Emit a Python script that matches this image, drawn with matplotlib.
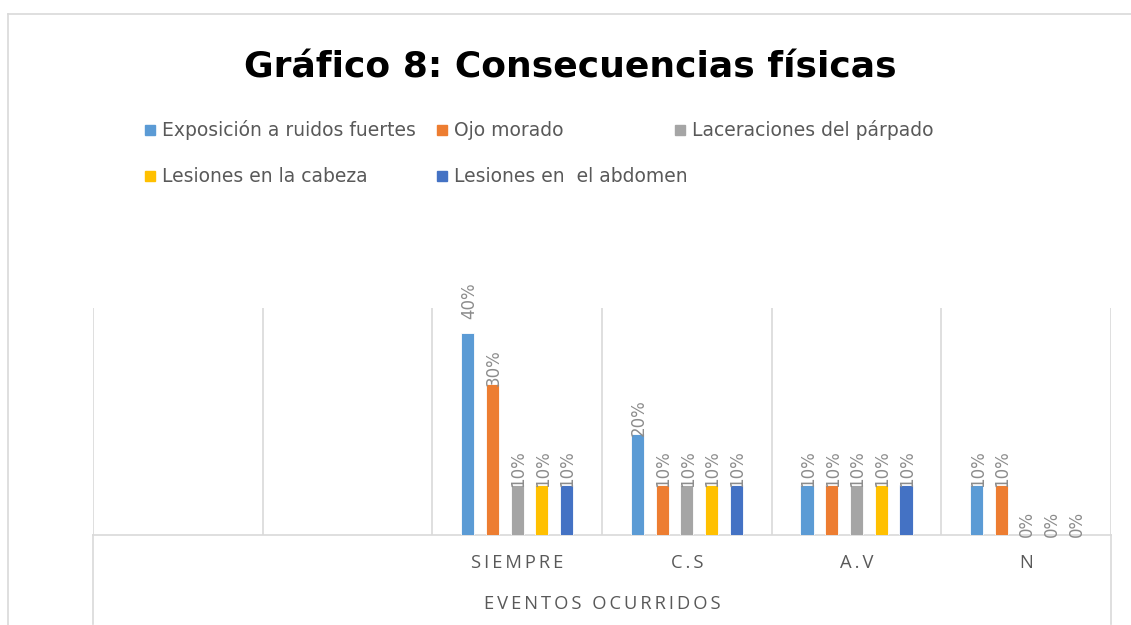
import numpy as np
import matplotlib
matplotlib.use("Agg")
import matplotlib.pyplot as plt
from matplotlib.patches import Rectangle
from matplotlib.lines import Line2D

# data (two leading empty category slots as in the original sheet)
categories = ["", "", "SIEMPRE", "C.S", "A.V", "N"]
series_names = ["Exposición a ruidos fuertes", "Ojo morado", "Laceraciones del párpado",
                "Lesiones en la cabeza", "Lesiones en  el abdomen"]
exposicion = [np.nan, np.nan, 0.40, 0.20, 0.10, 0.10]
ojo_morado = [np.nan, np.nan, 0.30, 0.10, 0.10, 0.10]
laceraciones = [np.nan, np.nan, 0.10, 0.10, 0.10, 0.00]
cabeza = [np.nan, np.nan, 0.10, 0.10, 0.10, 0.00]
abdomen = [np.nan, np.nan, 0.10, 0.10, 0.10, 0.00]
colors = ["#5B9BD5", "#ED7D31", "#A5A5A5", "#FFC000", "#4472C4"]

all_series = [exposicion, ojo_morado, laceraciones, cabeza, abdomen]


def spaced(s, sep="\u2009"):
    return sep.join(s)


fig = plt.figure(figsize=(11.31, 6.25), dpi=100)
W, H = 1131, 625
ax = fig.add_axes([93 / W, 1 - 535 / H, (1111 - 93) / W, (535 - 308) / H])

x = np.arange(len(categories))
step = 0.1456
width = 0.078
grid_c = "#D9D9D9"
for i, vals in enumerate(all_series):
    pos = x + (i - 2) * step
    ax.bar(pos, vals, width, color=colors[i], edgecolor="white", linewidth=0.6, zorder=3)
    for px, v in zip(pos, vals):
        if np.isnan(v):
            continue
        off = 14 if v >= 0.4 else -2
        ax.annotate(f"{v:.0%}", (px, v), xytext=(1, off), textcoords="offset pixels",
                    rotation=90, ha="center", va="bottom", fontsize=12, color="#8C8C8C", zorder=4)

ax.set_xlim(-0.5, len(categories) - 0.5)
ax.set_ylim(0, 0.45)
ax.set_yticks([])
ax.set_xticks(x)
ax.set_xticklabels([spaced(c) for c in categories], fontsize=13.2, color="#595959",
                   family="Open Sans")
ax.tick_params(axis="x", length=0, pad=14)
for b in np.arange(-0.5, len(categories), 1.0):
    ax.axvline(b, color=grid_c, linewidth=1.2, zorder=1)
for s in ["top", "left", "right"]:
    ax.spines[s].set_visible(False)
ax.spines["bottom"].set_color(grid_c)
ax.spines["bottom"].set_linewidth(1.2)
# outer edges of the multi-level category axis
for b in [-0.5, len(categories) - 0.5]:
    ax.plot([b, b], [0, -0.39], transform=ax.get_xaxis_transform(), color=grid_c,
            linewidth=1.2, clip_on=False)

ax.set_xlabel(spaced("EVENTOS OCURRIDOS"), fontsize=13.2, color="#595959",
              family="Open Sans", labelpad=16)

fig.suptitle("Gráfico 8: Consecuencias físicas", x=570 / W, y=1 - 68 / H, va="center",
             fontsize=26, fontweight="bold", color="black")

# legend laid out as in the reference (row-major grid)
leg_pos = [(145, 130), (437, 130), (675, 130), (145, 176), (437, 176)]
for (lx, ly), name, c in zip(leg_pos, series_names, colors):
    fig.add_artist(Rectangle((lx / W, 1 - (ly + 5) / H), 10 / W, 10 / H, color=c,
                             transform=fig.transFigure))
    fig.text((lx + 17) / W, 1 - ly / H, name, fontsize=13.5, color="#595959", va="center")

# chart area border
fig.add_artist(Line2D([8 / W, 1], [1 - 14 / H, 1 - 14 / H], color=grid_c, linewidth=1.2))
fig.add_artist(Line2D([8 / W, 8 / W], [0, 1 - 14 / H], color=grid_c, linewidth=1.2))

fig.savefig("out.png", dpi=100)
